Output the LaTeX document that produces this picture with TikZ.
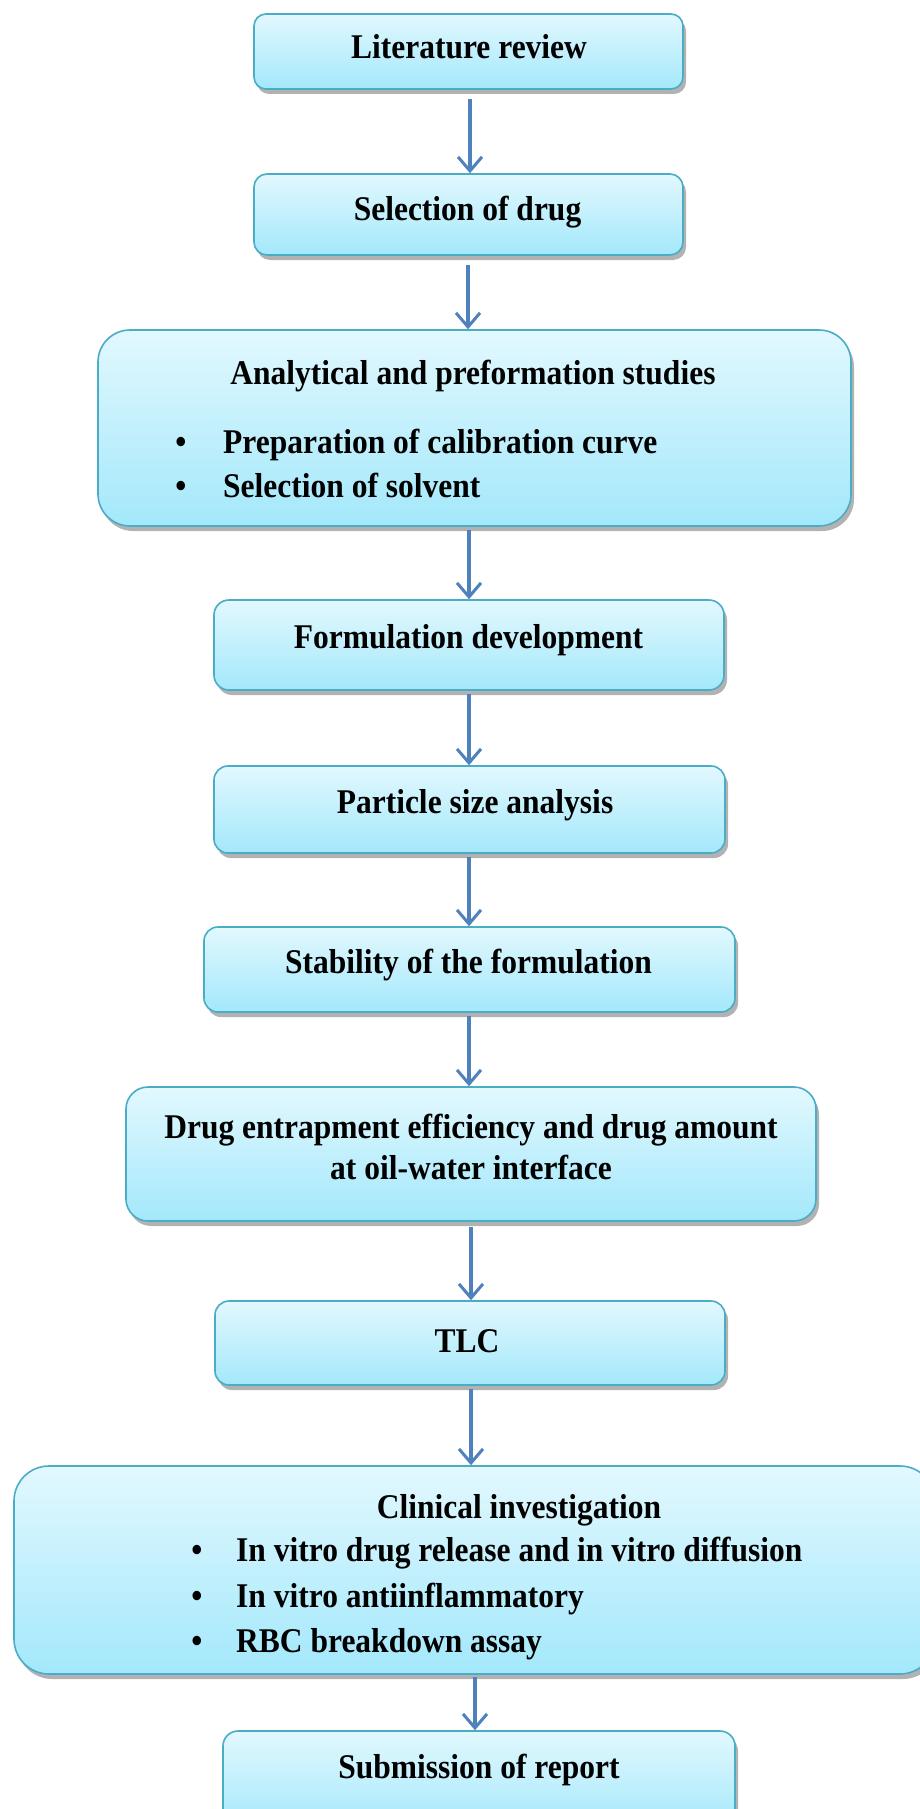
\documentclass[tikz,border=0pt]{standalone}
\usepackage{fontspec}
\setmainfont{Liberation Serif}
\usetikzlibrary{arrows.meta,shadows}
\definecolor{boxtop}{RGB}{226,248,254}
\definecolor{boxbot}{RGB}{163,232,251}
\definecolor{boxline}{RGB}{75,172,198}
\definecolor{arrowc}{RGB}{79,129,189}
\newcommand{\tx}[1]{\scalebox{1}[1.1]{#1}}
\tikzset{
  flowbox/.style={draw=boxline, line width=1.6pt, top color=boxtop, bottom color=boxbot,
    drop shadow={shadow xshift=3pt, shadow yshift=-5pt, fill=black, opacity=0.3},
    inner sep=0pt},
  lbl/.style={font=\bfseries\fontsize{31.5}{36}\selectfont, inner sep=0pt, anchor=base},
  lblw/.style={lbl, anchor=base west},
  flowarrow/.style={draw=arrowc, line width=3.5pt, -{Straight Barb[length=14pt,width=24pt,line width=3pt]}}
}
\begin{document}
\begin{tikzpicture}[x=1pt,y=-1pt]
\useasboundingbox (0,0) rectangle (920,1809);
\clip (0,0) rectangle (920,1809);
\fill[white] (0,0) rectangle (920,1809);
% boxes
\node[flowbox, rounded corners=12pt, minimum width=429pt, minimum height=75pt] (lit) at (468.5,51.5) {};
\node[flowbox, rounded corners=13pt, minimum width=429pt, minimum height=81pt] (sel) at (468.5,214.5) {};
\node[flowbox, rounded corners=32pt, minimum width=753pt, minimum height=196pt] (ana) at (474.5,428) {};
\node[flowbox, rounded corners=15pt, minimum width=510pt, minimum height=90pt] (form) at (469,645) {};
\node[flowbox, rounded corners=14pt, minimum width=511pt, minimum height=87pt] (part) at (469.5,809.5) {};
\node[flowbox, rounded corners=14pt, minimum width=531pt, minimum height=85pt] (stab) at (469.5,969.5) {};
\node[flowbox, rounded corners=22pt, minimum width=690pt, minimum height=134pt] (drug) at (471,1154) {};
\node[flowbox, rounded corners=14pt, minimum width=510pt, minimum height=84pt] (tlc) at (470,1343) {};
\node[flowbox, rounded corners=35pt, minimum width=921pt, minimum height=208pt] (clin) at (474.5,1570) {};
\node[flowbox, rounded corners=15pt, minimum width=512pt, minimum height=100pt] (sub) at (479,1781) {};
% texts
\node[lbl] (tlit) at (469,59) {\tx{Literature review}};
\node[lbl] (tsel) at (467.5,220) {\tx{Selection of drug}};
\node[lbl] (tana) at (473,384) {\tx{Analytical and preformation studies}};
\node[lbl] (bana1) at (181,453) {\tx{\textbullet}};
\node[lblw] (tana1) at (223,453) {\tx{Preparation of calibration curve}};
\node[lbl] (bana2) at (181,497) {\tx{\textbullet}};
\node[lblw] (tana2) at (223,497) {\tx{Selection of solvent}};
\node[lbl] (tform) at (468.5,648) {\tx{Formulation development}};
\node[lbl] (tpart) at (475,813) {\tx{Particle size analysis}};
\node[lbl] (tstab) at (468.5,973) {\tx{Stability of the formulation}};
\node[lbl] (tdrug1) at (471,1138) {\tx{Drug entrapment efficiency and drug amount}};
\node[lbl] (tdrug2) at (471,1179) {\tx{at oil-water interface}};
\node[lbl] (ttlc) at (467,1352) {\tx{TLC}};
\node[lbl] (tclin) at (519,1518) {\tx{Clinical investigation}};
\node[lbl] (bcl1) at (197,1561) {\tx{\textbullet}};
\node[lblw] (tcl1) at (236,1561) {\tx{In vitro drug release and in vitro diffusion}};
\node[lbl] (bcl2) at (197,1607) {\tx{\textbullet}};
\node[lblw] (tcl2) at (236,1607) {\tx{In vitro antiinflammatory}};
\node[lbl] (bcl3) at (197,1652) {\tx{\textbullet}};
\node[lblw] (tcl3) at (236,1652) {\tx{RBC breakdown assay}};
\node[lbl] (tsub) at (479,1778) {\tx{Submission of report}};
% arrow columns
\coordinate (c1) at (470,0);
\coordinate (c2) at (468,0);
\coordinate (c3) at (469,0);
\coordinate (c4) at (471,0);
\coordinate (c5) at (475,0);
% arrows
\draw[flowarrow] (lit.south -| c1) ++(0,9) -- (sel.north -| c1);
\draw[flowarrow] (sel.south -| c2) ++(0,9) -- (ana.north -| c2);
\draw[flowarrow] (ana.south -| c3) ++(0,3) -- (form.north -| c3);
\draw[flowarrow] (form.south -| c3) ++(0,3) -- (part.north -| c3);
\draw[flowarrow] (part.south -| c3) ++(0,3) -- (stab.north -| c3);
\draw[flowarrow] (stab.south -| c3) ++(0,3) -- (drug.north -| c3);
\draw[flowarrow] (drug.south -| c4) ++(0,5) -- (tlc.north -| c4);
\draw[flowarrow] (tlc.south -| c4) ++(0,3) -- (clin.north -| c4);
\draw[flowarrow] (clin.south -| c5) ++(0,2) -- (sub.north -| c5);
\end{tikzpicture}
\end{document}
